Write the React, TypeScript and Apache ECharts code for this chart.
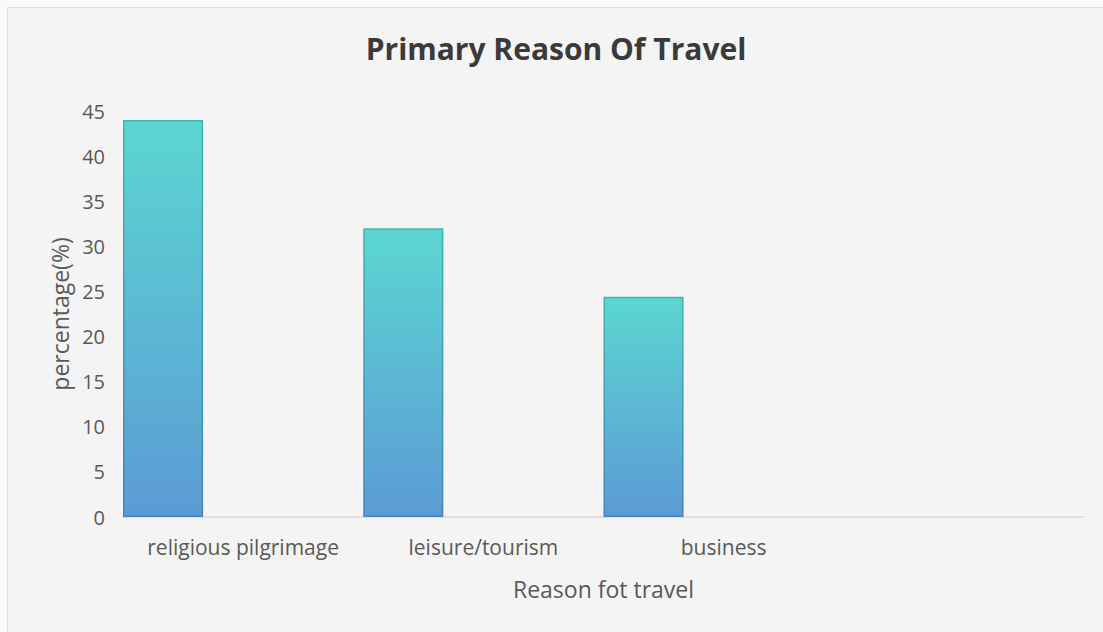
import React, { useEffect, useRef } from "react";
import * as echarts from "echarts";

const categories = ["religious pilgrimage", "leisure/tourism", "business", ""];
const percentages = [44, 32, 24.4, null];
const emptySeriesA: (number | null)[] = [];
const emptySeriesB: (number | null)[] = [];
const yTicks = { min: 0, max: 45, interval: 5 };

export default function App() {
  const ref = useRef<HTMLDivElement>(null);
  useEffect(() => {
    if (!ref.current) return;
    const chart = echarts.init(ref.current, null, { renderer: "svg" });
    const font = "'Open Sans', sans-serif";
    const fill = new echarts.graphic.LinearGradient(0, 0, 0, 1, [
      { offset: 0, color: "#5cd6d1" },
      { offset: 1, color: "#5b9bd5" },
    ]);
    const stroke = new echarts.graphic.LinearGradient(0, 0, 0, 1, [
      { offset: 0, color: "#43b2b0" },
      { offset: 1, color: "#4683b9" },
    ]);
    chart.setOption({
      animation: false,
      backgroundColor: "#f4f4f4",
      title: {
        text: "Primary Reason Of Travel",
        left: "center",
        top: 20,
        textStyle: { fontFamily: font, fontSize: 30, fontWeight: "bold", color: "#3a3a3a" },
      },
      grid: { left: 115, right: 20, top: 103, bottom: 116 },
      xAxis: {
        type: "category",
        data: categories,
        name: "Reason fot travel",
        nameLocation: "middle",
        nameGap: 60,
        nameTextStyle: { fontFamily: font, fontSize: 23, color: "#595959" },
        axisLine: { lineStyle: { color: "#d9d9d9", width: 1.5 } },
        axisTick: { show: false },
        axisLabel: { fontFamily: font, fontSize: 21, color: "#595959", margin: 19, interval: 0 },
      },
      yAxis: {
        type: "value",
        min: yTicks.min,
        max: yTicks.max,
        interval: yTicks.interval,
        name: "percentage(%)",
        nameLocation: "middle",
        nameGap: 50,
        nameRotate: 90,
        nameTextStyle: { fontFamily: font, fontSize: 23, color: "#595959" },
        axisLine: { show: false },
        axisTick: { show: false },
        splitLine: { show: false },
        axisLabel: { fontFamily: font, fontSize: 20, color: "#595959", margin: 18 },
      },
      series: [
        {
          type: "bar",
          data: percentages,
          barGap: "0%",
          barCategoryGap: "0%",
          itemStyle: { color: fill, borderColor: stroke, borderWidth: 1.5 },
        },
        { type: "bar", data: emptySeriesA, barGap: "0%", barCategoryGap: "0%" },
        { type: "bar", data: emptySeriesB, barGap: "0%", barCategoryGap: "0%" },
      ],
    });
    return () => chart.dispose();
  }, []);
  return (
    <div style={{ position: "absolute", left: 0, top: 0, width: 1103, height: 632, background: "#f9f9f9", overflow: "hidden" }}>
      <div
        ref={ref}
        style={{
          position: "absolute",
          left: 7,
          top: 7,
          width: 1096,
          height: 625,
          borderLeft: "1px solid #dedede",
          borderTop: "1px solid #dedede",
        }}
      />
    </div>
  );
}
